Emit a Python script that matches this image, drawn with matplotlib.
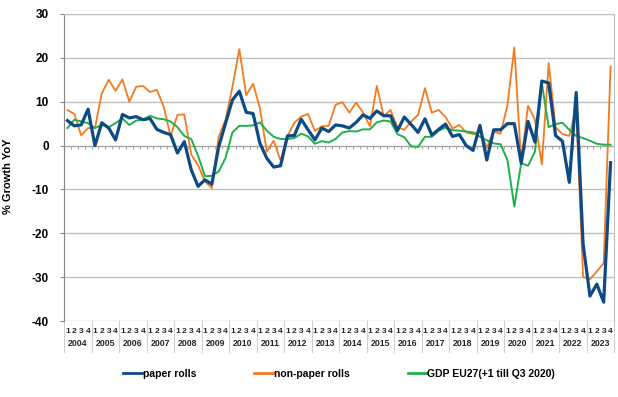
import matplotlib
matplotlib.use("Agg")
import matplotlib.pyplot as plt
import matplotlib.transforms as mtransforms
import numpy as np

plt.rcParams['font.family'] = ['Liberation Sans', 'DejaVu Sans']
plt.rcParams['font.weight'] = 'bold'
plt.rcParams['axes.unicode_minus'] = False

# data ---------------------------------------------------------------
years = [str(y) for y in range(2004, 2024)]
quarters = ['1', '2', '3', '4']

paper_rolls = [
    5.7, 4.5, 4.7, 8.3,
    0.0, 5.2, 4.0, 1.3,
    7.1, 6.3, 6.6, 5.9,
    6.2, 3.7, 3.0, 2.5,
    -1.7, 0.9, -5.5, -9.3,
    -7.8, -8.8, -0.3, 5.1,
    10.4, 12.4, 7.6, 7.3,
    0.5, -2.9, -4.9, -4.6,
    2.2, 2.3, 6.0, 3.6,
    1.3, 4.0, 3.2, 4.7,
    4.5, 4.0, 5.3, 7.0,
    6.2, 7.9, 6.8, 6.8,
    3.4, 6.5, 4.8, 3.0,
    6.1, 2.4, 3.7, 4.9,
    2.1, 2.5, 0.0, -1.1,
    4.6, -3.3, 3.6, 3.6,
    5.0, 5.0, -4.0, 5.5,
    0.8, 14.7, 14.3, 2.3,
    1.0, -8.4, 12.1, -22.4,
    -34.3, -31.6, -35.7, -3.9,
]

non_paper_rolls = [
    8.1, 7.2, 2.3, 4.0,
    4.0, 11.9, 15.0, 12.5,
    15.1, 10.0, 13.4, 13.6,
    12.2, 12.7, 8.9, 2.1,
    7.0, 7.1, -2.0, -4.5,
    -8.2, -9.7, 2.0, 5.9,
    13.4, 22.0, 11.5, 14.1,
    8.5, -1.4, 1.1, -3.4,
    2.1, 5.2, 6.6, 7.2,
    3.3, 4.4, 4.5, 9.3,
    9.9, 7.5, 9.8, 7.5,
    4.4, 13.6, 6.7, 8.1,
    4.2, 3.6, 5.5, 7.0,
    13.1, 7.5, 8.1, 6.5,
    3.9, 4.7, 3.0, 2.6,
    3.3, -0.5, 3.2, 2.7,
    9.2, 22.4, -3.7, 9.1,
    5.9, -4.3, 18.8, 4.2,
    2.6, 2.2, 8.5, -29.9,
    -30.5, -28.7, -26.8, 18.0,
]

gdp_eu27 = [
    4.0, 5.9, 5.5, 5.1,
    4.0, 4.7, 4.2, 5.1,
    6.2, 4.7, 5.7, 5.9,
    6.8, 6.2, 6.0, 5.5,
    4.2, 2.2, 1.5, -2.3,
    -7.0, -6.9, -5.9, -2.8,
    3.0, 4.5, 4.5, 4.6,
    5.3, 3.4, 2.0, 1.5,
    1.5, 1.7, 2.7, 2.1,
    0.4, 1.0, 0.7, 1.5,
    3.0, 3.3, 3.2, 3.7,
    3.7, 5.3, 5.7, 5.5,
    2.6, 1.9, -0.2, -0.3,
    2.0, 2.0, 3.4, 4.1,
    3.5, 3.4, 3.2, 3.0,
    2.0, 1.2, 0.5, 0.3,
    -3.3, -13.9, -4.0, -4.6,
    -1.4, 14.2, 4.2, 4.9,
    5.2, 3.6, 2.2, 1.7,
    1.1, 0.4, 0.2, 0.2,
]

n = len(paper_rolls)
x = np.arange(n) + 0.5

# figure --------------------------------------------------------------
fig = plt.figure(figsize=(6.18, 3.97), dpi=100)
ax = fig.add_axes([64 / 618, 1 - 321 / 397, 550 / 618, 307 / 397])

grid_c = '#BFBFBF'
ax.set_ylim(-40, 30)
ax.set_xlim(0, n)
ax.set_yticks(np.arange(-40, 31, 10))
ax.yaxis.grid(True, color=grid_c, linewidth=1.0)
ax.set_axisbelow(True)

ax.plot(x, non_paper_rolls, color='#F47A20', linewidth=1.3, label='non-paper rolls', zorder=3)
ax.plot(x, gdp_eu27, color='#1DB04B', linewidth=1.4, label='GDP EU27(+1 till Q3 2020)', zorder=4)
ax.plot(x, paper_rolls, color='#0E4A84', linewidth=2.3, label='paper rolls', zorder=5)

# spines
ax.spines['bottom'].set_position(('data', 0))
ax.spines['bottom'].set_color('#A6A6A6')
ax.spines['bottom'].set_zorder(2)
ax.spines['left'].set_color('#868686')
ax.spines['top'].set_color(grid_c)
ax.spines['right'].set_color(grid_c)

ax.set_xticks(np.arange(1, n))
ax.set_xticklabels([])
ax.tick_params(axis='x', length=2.5, color='#A6A6A6', direction='out')
ax.tick_params(axis='y', length=3, color='#868686', labelsize=8.5, pad=8)
for lab in ax.get_yticklabels():
    lab.set_fontweight('bold')

ax.set_ylabel('% Growth YoY', fontsize=8, fontweight='bold')
ax.yaxis.set_label_coords(-0.093, 0.47)

# multi level category axis
trans = mtransforms.blended_transform_factory(ax.transData, ax.transAxes)
for i in range(n):
    ax.text(x[i], -0.034, quarters[i % 4], transform=trans, ha='center', va='center',
            fontsize=6, fontweight='bold', color='#262626')
for k, yr in enumerate(years):
    ax.text(4 * k + 2, -0.073, yr, transform=trans, ha='center', va='center',
            fontsize=6.3, fontweight='bold', color='#262626')
for k in range(len(years) + 1):
    ax.plot([4 * k, 4 * k], [0, -0.101], transform=trans, color='#D0D0D0',
            linewidth=0.8, clip_on=False)

# legend
handles, labels = ax.get_legend_handles_labels()
order = [2, 0, 1]
leg = ax.legend([handles[i] for i in order], [labels[i] for i in order],
                loc='center', bbox_to_anchor=(0.5, -0.173), ncol=3, frameon=False,
                handlelength=1.8, handletextpad=0.05, columnspacing=5.6,
                prop={'size': 7.5, 'weight': 'bold'})
for line in leg.get_lines():
    line.set_linewidth(2.0)

fig.savefig('out.png', dpi=100)
